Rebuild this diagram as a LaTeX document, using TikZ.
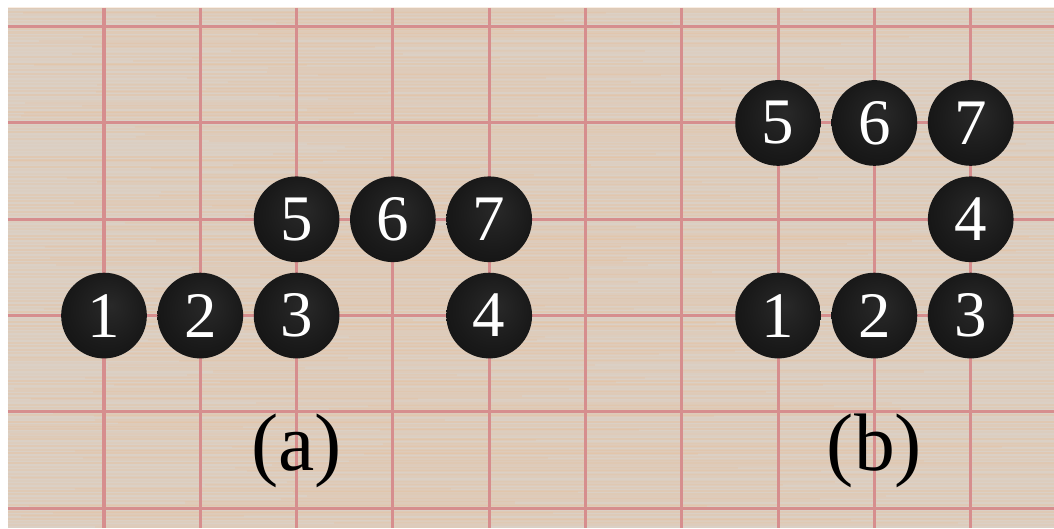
\documentclass[tikz,border=0pt]{standalone}
\usepackage{fontspec}
\setmainfont{Liberation Serif}
\usepackage{tikz}
\definecolor{wood}{RGB}{219,208,197}
\definecolor{woodstreak}{RGB}{234,186,142}
\definecolor{gridred}{RGB}{214,142,142}
\pgfdeclareradialshading{stoneshade}{\pgfpoint{4bp}{6bp}}{%
  color(0bp)=(black!84!white); color(22bp)=(black!90!white);
  color(40bp)=(black!94!white); color(46bp)=(black!86!white);
  color(50bp)=(black)}
\tikzset{
  stone/.style={circle, minimum size=0.89cm, inner sep=0pt, shading=stoneshade,
    text=white, font=\fontsize{19.2}{20}\selectfont},
  sublabel/.style={anchor=base, font=\fontsize{24.1}{26}\selectfont},
  gridline/.style={gridred, line width=0.9pt},
  woodline/.style={woodstreak, line width=0.6pt}
}

\begin{document}
\begin{tikzpicture}
      % page and board
      \useasboundingbox (-1.080,-5.206) rectangle (9.865,0.277);
      \fill[white] (-1.080,-5.206) rectangle (9.865,0.277);
      \fill[wood] (-0.997,-5.206) rectangle (9.865,0.194);

      % wood grain
      \pgfmathsetseed{11}
      \foreach \k in {0,...,150} {
        \pgfmathsetmacro{\yy}{0.19-\k*0.0358}
        \pgfmathsetmacro{\op}{0.05+0.3*rnd}
        \pgfmathsetmacro{\xa}{-1+4*rnd}
        \pgfmathsetmacro{\xb}{\xa+2+7*rnd}
        \draw[woodline, opacity=\op] (-0.997,\yy) -- (9.865,\yy);
        \draw[woodline, opacity=0.2] (\xa,\yy-0.012) -- ({min(\xb,9.865)},\yy-0.012);
      }

      % grid
      \foreach \c in {0,...,9}
        \draw[gridline] (\c,0.194) -- (\c,-5.206);
      \foreach \r in {0,...,5}
        \draw[gridline] (-0.997,-\r) -- (9.865,-\r);

      % shape (a)
      \node[stone] (a1) at (0,-3) {1};
      \node[stone] (a2) at (1,-3) {2};
      \node[stone] (a3) at (2,-3) {3};
      \node[stone] (a4) at (4,-3) {4};
      \node[stone] (a5) at (2,-2) {5};
      \node[stone] (a6) at (3,-2) {6};
      \node[stone] (a7) at (4,-2) {7};
      \node[sublabel] (la) at (2,-4.614) {(a)};

      % shape (b)
      \node[stone] (b1) at (7,-3) {1};
      \node[stone] (b2) at (8,-3) {2};
      \node[stone] (b3) at (9,-3) {3};
      \node[stone] (b4) at (9,-2) {4};
      \node[stone] (b5) at (7,-1) {5};
      \node[stone] (b6) at (8,-1) {6};
      \node[stone] (b7) at (9,-1) {7};
      \node[sublabel] (lb) at (8,-4.614) {(b)};
    \end{tikzpicture}
\end{document}
